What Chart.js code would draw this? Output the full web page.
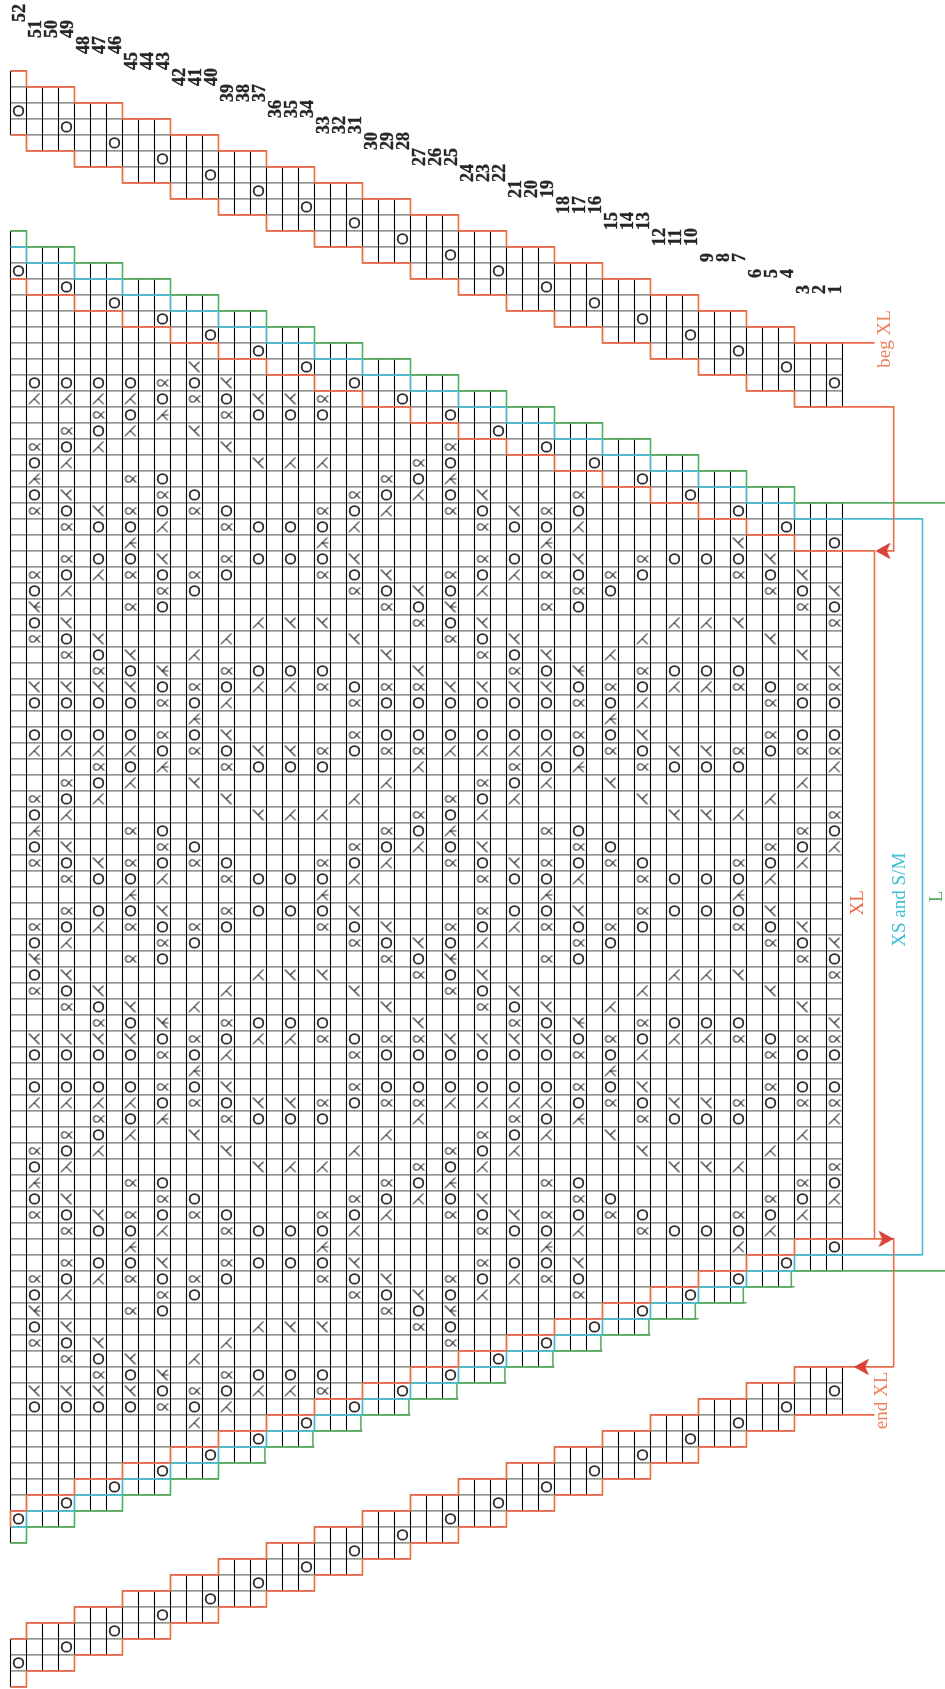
<!DOCTYPE html>
<html>
<head>
<meta charset="utf-8">
<title>Lace chart</title>
<style>
html,body{margin:0;padding:0;background:#fff}
canvas{display:block}
</style>
<script src="https://cdn.jsdelivr.net/npm/chart.js@4/dist/chart.umd.min.js"></script>
</head>
<body>
<canvas id="c" width="945" height="1689"></canvas>
<script>
// ---------- DATA ----------
// Column boundaries of the staircase bands
const bandEdges = [0,1,4,7,10,13,16,19,22,25,28,31,34,37,40,43,46,49,52];
const greenLowerEdges = [0,1,4,7,10,13,15.9,18.9,21.9,24.9,27.9,30.9,33.9,36.9,39.9,42.8,45.8,48.8,52];
// Row boundary per band for every outline
const flapTopUpper    = [0,1,2,3,4,5,6,7,8,9,10,11,12,13,14,15,16,17];
const flapTopLower    = [4,5,6,7,8,9,10,11,12,13,14,15,16,17,18,19,20,21];
const greenUpper      = [10,11,12,13,14,15,16,17,18,19,20,21,22,23,24,25,26,27];
const blueUpper       = [11,12,13,14,15,16,17,18,19,20,21,22,23,24,25,26,27,28];
const redUpper        = [13,14,15,16,17,18,19,20,21,22,23,24,25,26,27,28,29,30];
const redLower        = [90,89,88,87,86,85,84,83,82,81,80,79,78,77,76,75,74,73];
const blueLower       = [91,90,89,88,87,86,85,84,83,82,81,80,79,78,77,76,75,74];
const greenLower      = [92,91,90,89,88,87,86,85,84,83,82,81,80,79,78,77,76,75];
const flapBottomUpper = [98,97,96,95,94,93,92,91,90,89,88,87,86,85,84,83,82,81];
const flapBottomLower = [101,100,99,98,97,96,95,94,93,92,91,90,89,88,87,86,85,84];

// Yarn-overs on the shaped edges: one per band column
const edgeEyeletCols      = [0,3,6,9,12,15,18,21,24,27,30,33,36,39,42,45,48,51];
const flapTopEyeletRows   = [2,3,4,5,6,7,8,9,10,11,12,13,14,15,16,17,18,19];
const mainTopEyeletRows   = [12,13,14,15,16,17,18,19,20,21,22,23,24,25,26,27,28,29];
const mainBottomEyeletRows= [90,89,88,87,86,85,84,83,82,81,80,79,78,77,76,75,74,73];
const flapBotEyeletRows   = [99,98,97,96,95,94,93,92,91,90,89,88,87,86,85,84,83,82];

// Body of the chart: rows 18..84, odd columns 1,3,...,51
// O yarn over, Q twisted, A and B single decreases, a and b double decreases
const firstPatternRow = 18;
const patternRows = [
".....B....................",
"OOOOQOB...................",
"AAAAOQOBBQ................",
"..QOa.QOOO................",
".QOA.B....................",
"QOA...B......Q............",
"OA.....BAA..QO............",
"a..QO......QOa............",
"OB..QO....QOAOB..Q........",
"QOBQOQO..QOA.QOBQO........",
".QOOA.QOOOA...QOOA........",
"...a.....a......a.....B...",
".QOOB.QOOOB...QOOB.QOOOB..",
"QOAQOQO..QOB.QOAQOQO..QOB.",
"OA..QO....QOBOA..QO....QOB",
"b..QO......QOb..QO......QO",
"OB.....ABB..QOB.....AAB..Q",
"QOB...A...B..QOB...A...B..",
".QOB.A.....B..QOB.A.....B.",
"..QOb.QOOO..B..QOb.QOOO..B",
"BBBBOQOAAQOQQBBBBOQOAAQOQQ",
"OOOOQOA...QOOOOOOQOA...QOO",
".....a............a.......",
"OOOOQOB...QOOOOOOQOB...QOO",
"AAAAOQOBBQOQQAAAAOQOBBQOQQ",
"..QOa.QOOO..A..QOa.QOOO..A",
".QOA.B.....A..QOA.B.....A.",
"QOA...B...A..QOA...B...A..",
"OA.....BAA..QOA.....BBA..Q",
"a..QO......QOa..QO......QO",
"OB..QO....QOAOB..QO....QOA",
"QOBQOQO..QOA.QOBQOQO..QOA.",
".QOOA.QOOOA...QOOA.QOOOA..",
"...a.....a......a.....a...",
".QOOB.QOOOB...QOOB.QOOOB..",
"QOAQOQO..QOB.QOAQOQO..QOB.",
"OA..QO....QOBOA..QO....QOB",
"b..QO......QOb..QO......QO",
"OB.....ABB..QOB.....AAB..Q",
"QOB...A...B..QOB...A...B..",
".QOB.A.....B..QOB.A.....B.",
"..QOb.QOOO..B..QOb.QOOO..B",
"BBBBOQOAAQOQQBBBBOQOAAQOQQ",
"OOOOQOA...QOOOOOOQOA...QOO",
".....a............a.......",
"OOOOQOB...QOOOOOOQOB...QOO",
"AAAAOQOBBQOQQAAAAOQOBBQOQQ",
"..QOa.QOOO..A..QOa.QOOO..A",
".QOA.B.....A..QOA.B.....A.",
"QOA...B...A..QOA...B...A..",
"OA.....BAA..QOA.....BBA..Q",
"a..QO......QOa..QO......QO",
"OB..QO....QOAOB..QO....QOA",
"QOBQOQO..QOA.QOBQOQO..QOA.",
".QOOA.QOOOA...QOOA.QOOOA..",
"...a.....a......a.....A...",
".QOOB.QOOOB...QOOB........",
"QOAQOQO..QOB.QOAQO........",
"OA..QO....QOBOA..Q........",
"b..QO......QOb............",
"OB.....ABB..QO............",
"QOB...A......Q............",
".QOB.A....................",
"..QOb.QOOO................",
"BBBBOQOAAQ................",
"OOOOQOA...................",
".....A....................",
];

// Row numbers along the top, with the stagger step of each
const rowNumbers = [52,51,50,49,48,47,46,45,44,43,42,41,40,39,38,37,36,35,34,33,32,31,30,29,28,27,26,25,24,23,22,21,20,19,18,17,16,15,14,13,12,11,10,9,8,7,6,5,4,3,2,1];
const rowNumberSteps = [0,1,1,1,2,2,2,3,3,3,4,4,4,5,5,5,6,6,6,7,7,7,8,8,8,9,9,9,10,10,10,11,11,11,12,12,12,13,13,13,14,14,14,15,15,15,16,16,16,17,17,17];

// Side captions
const sizeCaptions = ["beg XL","end XL","XL","XS and S/M","L"];

// ---------- COLOURS ----------
const RED="#ec6b49", BLUE="#45bccd", GREEN="#55ae5f", INK="#2a2a2a";

// ---------- GEOMETRY HELPERS ----------
function stair(rows,edges){
  const e=edges||bandEdges,pts=[];
  rows.forEach((r,i)=>{pts.push({x:e[i],y:r});pts.push({x:e[i+1],y:r});});
  return pts;
}
function gridSegments(upper,lower,orient){
  const pts=[];
  upper.forEach((t,i)=>{
    const b=lower[i],k0=bandEdges[i],k1=bandEdges[i+1];
    if(orient==='v'){
      for(let k=k0;k<=k1;k++){
        const last=k===k1&&i+1<upper.length;
        const top=last?Math.max(t,upper[i+1]):t;
        const bot=last?Math.min(b,lower[i+1]):b;
        pts.push({x:k,y:top},{x:k,y:bot},{x:null,y:null});
      }
    }else{
      for(let r=t;r<=b;r++){pts.push({x:k0,y:r},{x:k1,y:r},{x:null,y:null});}
    }
  });
  return pts;
}
function outlineDs(points,color){
  return {type:'scatter',data:points,showLine:true,borderColor:color,backgroundColor:color,borderWidth:1.6,pointRadius:0,tension:0,spanGaps:false,borderJoinStyle:'miter',order:1};
}

// ---------- SYMBOLS ----------
function sym(draw,w){
  const c=document.createElement('canvas');c.width=22;c.height=22;
  const g=c.getContext('2d');g.translate(11,11);g.strokeStyle='#333';g.lineWidth=w||1.1;g.lineCap='round';g.lineJoin='round';
  g.beginPath();draw(g);g.stroke();return c;
}
const drawA=g=>{g.moveTo(-5.3,4.8);g.lineTo(4.7,-5.2);g.moveTo(-0.2,-0.2);g.lineTo(4.8,4.8);};
const drawB=g=>{g.moveTo(-5.3,-5);g.lineTo(4.7,5);g.moveTo(-0.2,0);g.lineTo(4.8,-5);};
const symbolShapes={
  A:sym(drawA),
  B:sym(drawB),
  a:sym(g=>{drawA(g);g.moveTo(-1,0);g.lineTo(5.5,0);}),
  b:sym(g=>{drawB(g);g.moveTo(-1,0);g.lineTo(5.5,0);}),
  Q:sym(g=>{g.moveTo(5.5,-3.2);g.bezierCurveTo(3,-2.6,1.5,3.4,-2,3.2);g.bezierCurveTo(-6,3,-6,-3,-2,-3.2);g.bezierCurveTo(1.5,-3.4,3,2.6,5.5,3.2);},1.1)
};
const marks={O:[],Q:[],A:[],B:[],a:[],b:[]};
patternRows.forEach((line,ri)=>{
  [...line].forEach((ch,i)=>{
    if(ch!=='.') marks[ch].push({x:2*i+1+0.5,y:firstPatternRow+ri+0.5});
  });
});
[flapTopEyeletRows,mainTopEyeletRows,mainBottomEyeletRows,flapBotEyeletRows].forEach(rows=>{
  rows.forEach((r,i)=>marks.O.push({x:edgeEyeletCols[i]+0.5,y:r+0.5}));
});
function arrowShape(){
  const c=document.createElement('canvas');c.width=18;c.height=18;
  const g=c.getContext('2d');g.translate(9,9);
  g.beginPath();g.moveTo(-7,0);g.lineTo(6.5,-7.5);g.lineTo(3,0);g.lineTo(6.5,7.5);g.closePath();
  g.fillStyle='#dd4238';g.fill();g.strokeStyle='#c92c27';g.lineWidth=.8;g.stroke();
  return c;
}
const arrow=arrowShape();

// ---------- OUTLINE TAILS (grid units) ----------
const K_BEG=54, K_LOOP=55.2, K_BLUE=57, K_RIGHT=58.5;
const datasets=[
  {type:'scatter',data:[...gridSegments(flapTopUpper,flapTopLower,'h'),...gridSegments(greenUpper,greenLower,'h'),...gridSegments(flapBottomUpper,flapBottomLower,'h')],showLine:true,borderColor:'#6f6f6f',borderWidth:1.4,pointRadius:0,tension:0,spanGaps:false,order:5},
  {type:'scatter',data:[...gridSegments(flapTopUpper,flapTopLower,'v'),...gridSegments(greenUpper,greenLower,'v'),...gridSegments(flapBottomUpper,flapBottomLower,'v')],showLine:true,borderColor:'#000',borderWidth:1.1,pointRadius:0,tension:0,spanGaps:false,order:4},
  {type:'scatter',data:marks.O,pointStyle:'circle',pointRadius:4.8,pointBorderWidth:1.8,pointBorderColor:INK,pointBackgroundColor:'rgba(0,0,0,0)',showLine:false,order:3},
  ...['Q','A','B','a','b'].map(k=>({type:'scatter',data:marks[k],pointStyle:symbolShapes[k],pointRadius:8,showLine:false,order:3})),
  // top flap
  outlineDs([...stair(flapTopUpper),{x:K_BEG,y:17}],RED),
  outlineDs([...stair(flapTopLower),{x:K_LOOP,y:21},{x:K_LOOP,y:30},{x:K_BEG+0.6,y:30}],RED),
  // main block, size XL
  outlineDs([...stair(redUpper),{x:K_BEG,y:30},{x:K_BEG,y:73}],RED),
  outlineDs([{x:0,y:91},...stair(redLower),{x:K_LOOP,y:73},{x:K_LOOP,y:81}],RED),
  // size XS and S/M
  outlineDs([...stair(blueUpper),{x:K_BLUE,y:28},{x:K_BLUE,y:74}],BLUE),
  outlineDs([...stair(blueLower),{x:K_BLUE,y:74}],BLUE),
  // size L
  outlineDs([...stair(greenUpper),{x:K_RIGHT,y:27}],GREEN),
  outlineDs([...stair(greenLower,greenLowerEdges),{x:K_RIGHT,y:75}],GREEN),
  // bottom flap
  outlineDs([...stair(flapBottomUpper),{x:K_LOOP,y:81}],RED),
  outlineDs([...stair(flapBottomLower),{x:K_BEG,y:84}],RED),
  // arrow heads
  {type:'scatter',data:[{x:54.55,y:30},{x:54.7,y:73},{x:53.2,y:81}],pointStyle:arrow,pointRotation:[0,180,0],pointRadius:9,showLine:false,order:0},
];

// ---------- TEXT ----------
const labelPlugin={
  id:'labels',
  afterDatasetsDraw(chart){
    const {ctx,scales:{x,y}}=chart;
    function rot(text,px,py,font,color,align,heavy){
      ctx.save();ctx.translate(px,py);ctx.rotate(-Math.PI/2);
      ctx.font=font;ctx.fillStyle=color;ctx.textAlign=align||'center';ctx.textBaseline='middle';
      ctx.fillText(text,0,0);
      if(heavy){ctx.strokeStyle=color;ctx.lineWidth=heavy;ctx.strokeText(text,0,0);}
      ctx.restore();
    }
    rowNumbers.forEach((n,i)=>{
      const col=52-n;
      rot(String(n),x.getPixelForValue(col+0.5)+2,y.getPixelForValue(rowNumberSteps[i]-3.06),'bold 18px "Liberation Serif"','#262626','left',0.35);
    });
    const serif='19px "Liberation Serif"';
    rot(sizeCaptions[0],x.getPixelForValue(54.65),y.getPixelForValue(16.75),serif,'#f0805f');
    rot(sizeCaptions[1],x.getPixelForValue(54.5),y.getPixelForValue(83.1),serif,'#f0805f');
    rot(sizeCaptions[2],x.getPixelForValue(52.97),y.getPixelForValue(52),serif,RED);
    rot(sizeCaptions[3],x.getPixelForValue(55.62),y.getPixelForValue(51.8),serif,'#3fbfd2');
    rot(sizeCaptions[4],x.getPixelForValue(57.92),y.getPixelForValue(51.6),serif,GREEN);
  }
};

// ---------- CHART ----------
new Chart(document.getElementById('c'),{
  type:'scatter',
  data:{datasets},
  plugins:[labelPlugin],
  options:{
    responsive:false,animation:false,devicePixelRatio:1,events:[],
    layout:{padding:0,autoPadding:false},
    plugins:{legend:{display:false},tooltip:{enabled:false}},
    scales:{
      x:{type:'linear',display:false,min:-10.5/16,max:(945-10.5)/16},
      y:{type:'linear',display:false,reverse:true,min:-70.9/16,max:(1689-70.9)/16}
    }
  }
});
</script>
</body>
</html>
